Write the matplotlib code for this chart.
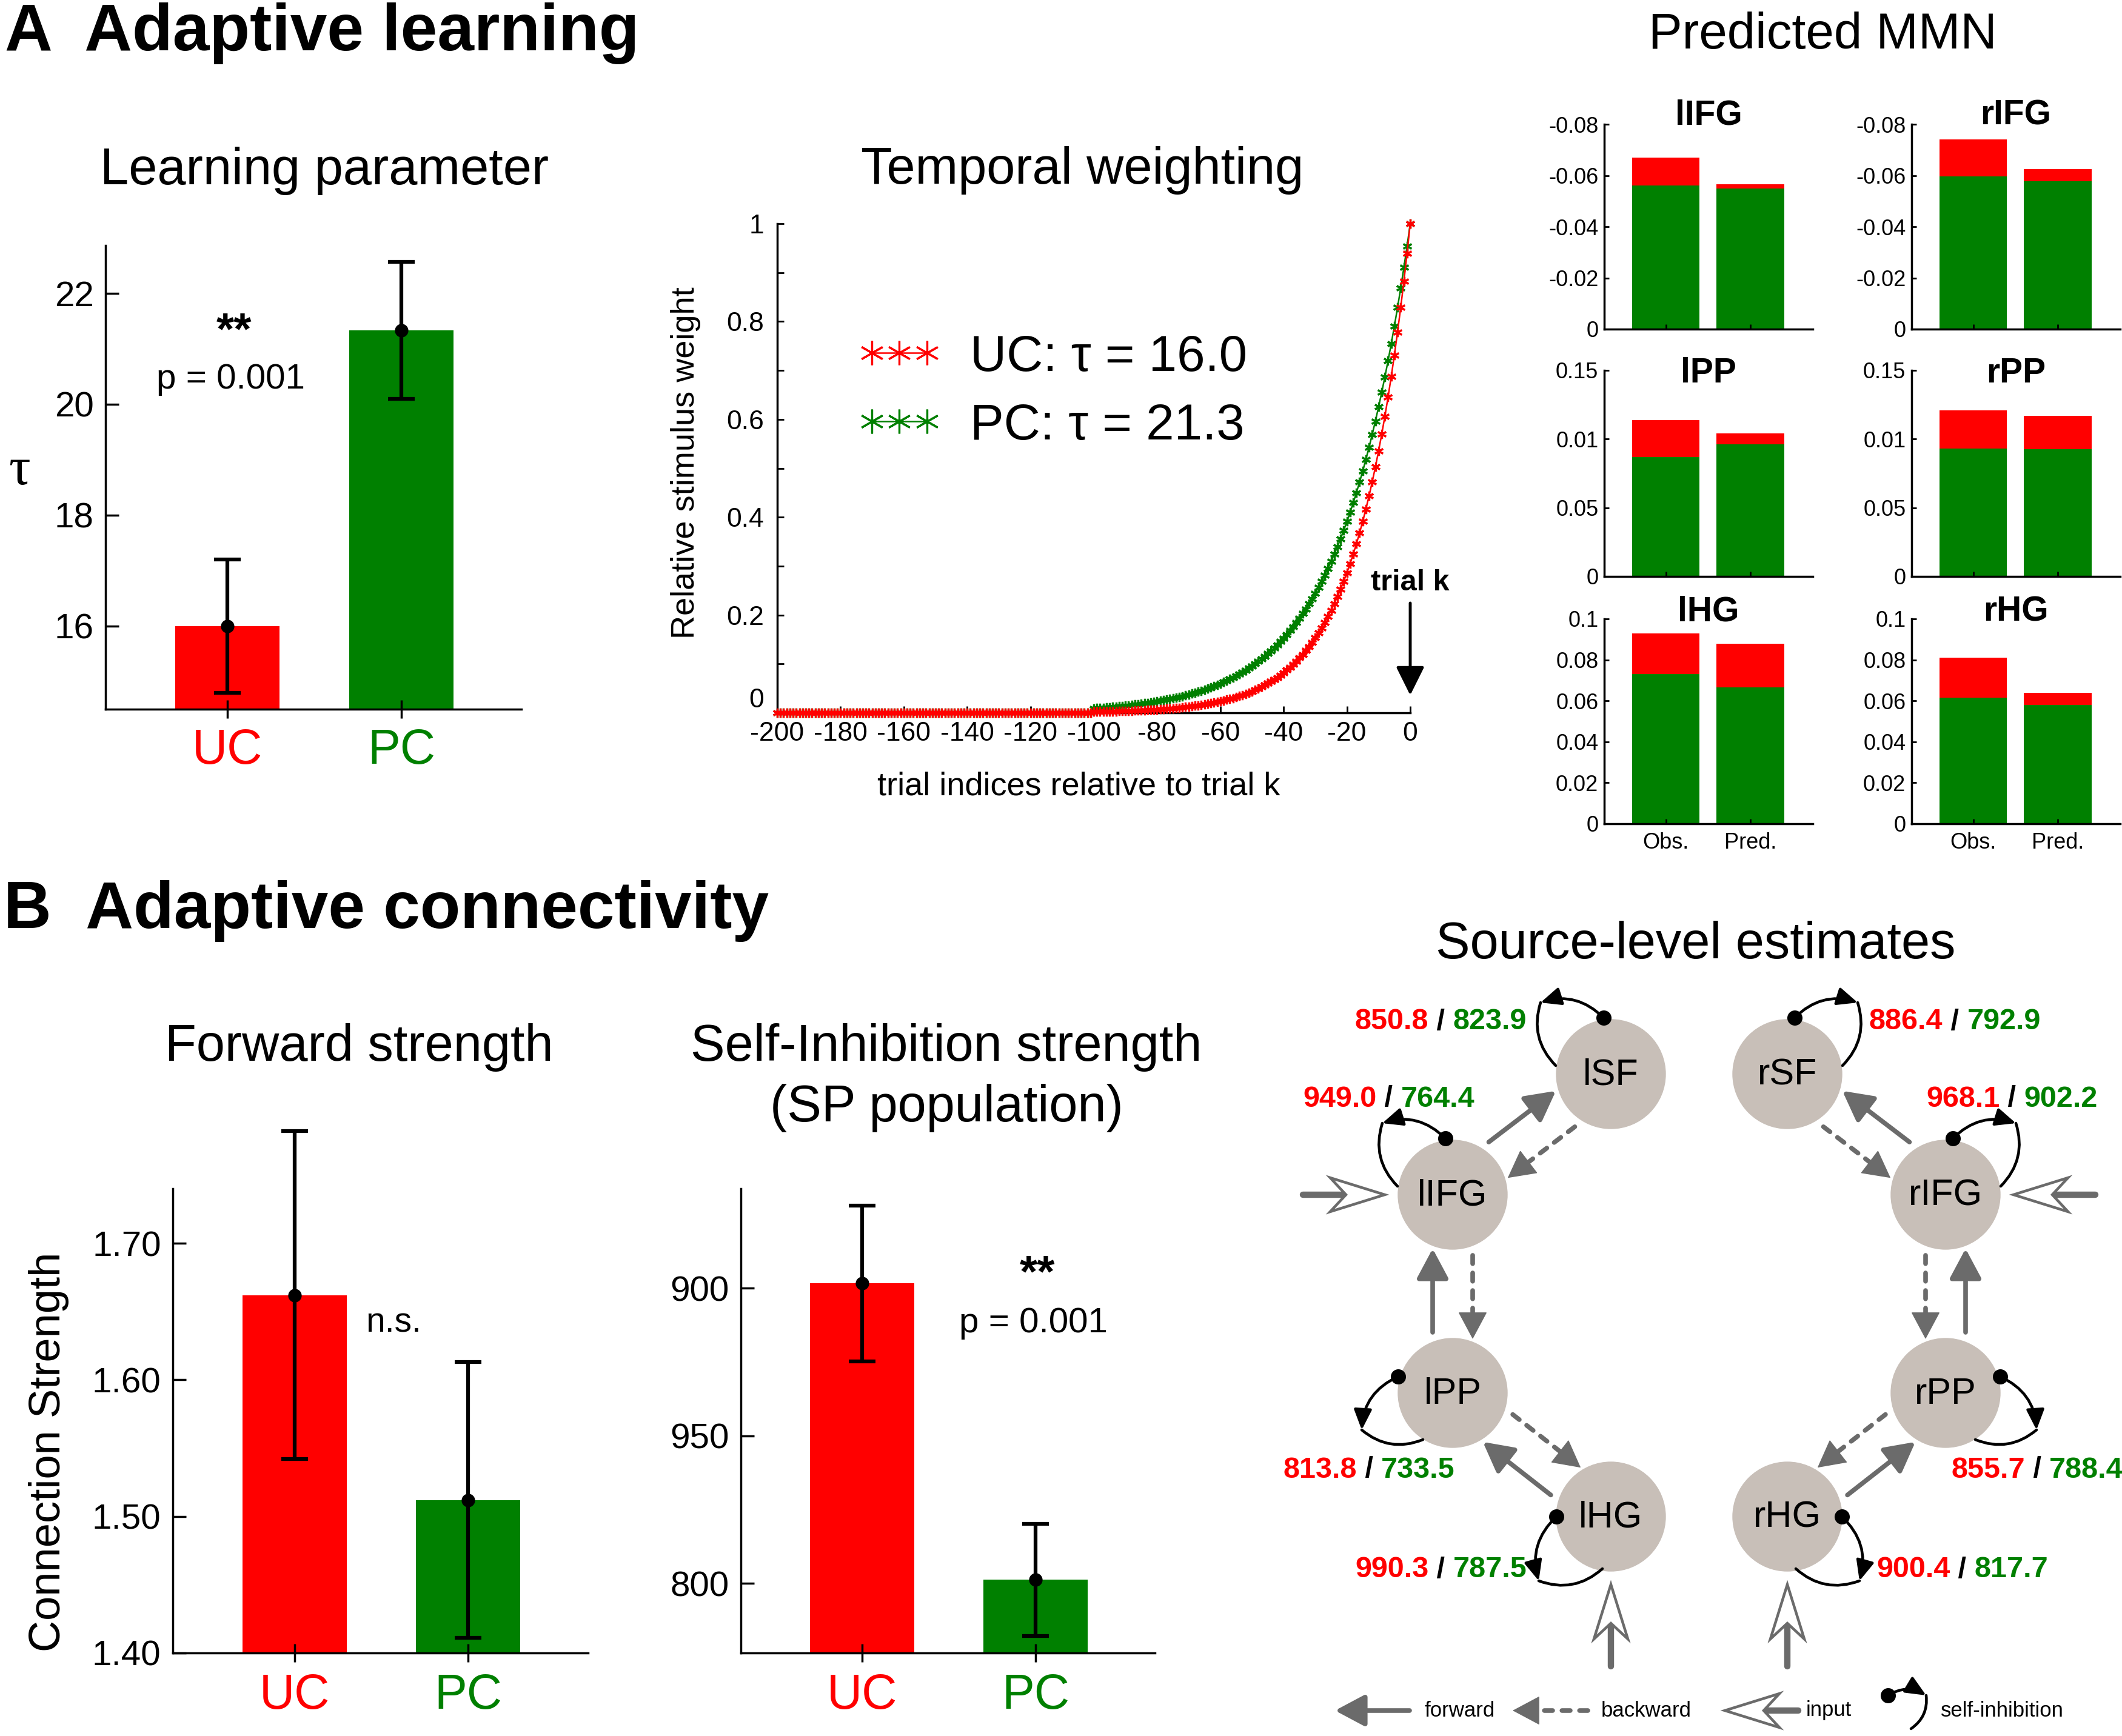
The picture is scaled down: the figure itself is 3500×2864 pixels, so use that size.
import numpy as np
import matplotlib.pyplot as plt
from matplotlib.patches import Circle, FancyArrowPatch, Polygon

plt.rcParams['font.family'] = ['Liberation Sans', 'DejaVu Sans']
plt.rcParams['axes.unicode_minus'] = False
plt.rcParams['axes.linewidth'] = 2.5

RED = '#ff0000'
GREEN = '#008000'
GREY = '#6b6b6b'
NODE_COLOR = '#c8bfb8'

# ---------------- data ----------------
groups = ['UC', 'PC']
group_colors = [RED, GREEN]

# learning parameter tau (mean, sem)
tau_mean = [16.0, 21.33]
tau_err = [1.2, 1.24]

# temporal weighting (trials -200 .. -101 sit at ~0)
trials = np.arange(-200, 1)
uc_weight = [0.0] * 100 + [
    .0019, .0021, .0022, .0023, .0025, .0026, .0028, .0030, .0032, .0034,
    .0036, .0038, .0041, .0044, .0046, .0049, .0053, .0056, .0060, .0063,
    .0067, .0072, .0076, .0081, .0087, .0092, .0098, .0104, .0111, .0118,
    .0126, .0134, .0143, .0152, .0162, .0172, .0183, .0195, .0208, .0221,
    .0235, .0250, .0267, .0284, .0302, .0321, .0342, .0364, .0388, .0413,
    .0439, .0468, .0498, .0530, .0564, .0601, .0639, .0681, .0724, .0771,
    .0821, .0874, .0930, .0990, .1054, .1122, .1194, .1271, .1353, .1441,
    .1534, .1632, .1738, .1850, .1969, .2096, .2231, .2375, .2528, .2691,
    .2865, .3050, .3247, .3456, .3679, .3916, .4169, .4438, .4724, .5028,
    .5353, .5698, .6065, .6456, .6873, .7316, .7788, .8290, .8825, .9394,
    1.0]
pc_weight = [0.0] * 100 + [
    .0091, .0096, .0100, .0105, .0110, .0116, .0121, .0127, .0133, .0140,
    .0146, .0153, .0161, .0168, .0176, .0185, .0194, .0203, .0213, .0223,
    .0234, .0245, .0257, .0269, .0282, .0296, .0310, .0325, .0340, .0357,
    .0374, .0392, .0411, .0430, .0451, .0473, .0496, .0519, .0544, .0571,
    .0598, .0627, .0657, .0688, .0721, .0756, .0793, .0831, .0871, .0912,
    .0956, .1002, .1050, .1101, .1154, .1209, .1267, .1328, .1392, .1459,
    .1529, .1603, .1680, .1760, .1845, .1934, .2027, .2124, .2226, .2333,
    .2445, .2563, .2686, .2815, .2950, .3092, .3241, .3397, .3560, .3731,
    .3910, .4098, .4295, .4502, .4718, .4945, .5183, .5432, .5693, .5966,
    .6253, .6554, .6869, .7199, .7545, .7908, .8288, .8686, .9104, .9541,
    1.0]
uc_label = 'UC: τ = 16.0'
pc_label = 'PC: τ = 21.3'

# predicted MMN per source (observed / predicted)
mmn_regions = ['lIFG', 'rIFG', 'lPP', 'rPP', 'lHG', 'rHG']
mmn_conditions = ['Obs.', 'Pred.']
mmn_uc_obs = [-0.067, -0.074, 0.114, 0.121, 0.093, 0.081]
mmn_uc_pred = [-0.0566, -0.0626, 0.104, 0.117, 0.088, 0.064]
mmn_pc_obs = [-0.056, -0.0596, 0.087, 0.093, 0.073, 0.0616]
mmn_pc_pred = [-0.055, -0.0578, 0.096, 0.0925, 0.0667, 0.058]
mmn_yticks = [[0, -0.02, -0.04, -0.06, -0.08], [0, 0.05, 0.10, 0.15],
              [0, 0.02, 0.04, 0.06, 0.08, 0.1]]
mmn_yticklabels = [['0', '-0.02', '-0.04', '-0.06', '-0.08'],
                   ['0', '0.05', '0.01', '0.15'],
                   ['0', '0.02', '0.04', '0.06', '0.08', '0.1']]
mmn_ylims = [(0, -0.08), (0, 0.15), (0, 0.1)]

# connectivity
forward_mean = [1.662, 1.512]
forward_err = [0.120, 0.101]
selfinh_mean = [901.6, 801.2]
selfinh_err = [26.4, 19.0]
selfinh_yticks = [800, 850, 900]
selfinh_yticklabels = ['800', '950', '900']

# source-level self-inhibition estimates (UC / PC)
src_regions = ['lSF', 'lIFG', 'lPP', 'lHG', 'rSF', 'rIFG', 'rPP', 'rHG']
src_uc = [850.8, 949.0, 813.8, 990.3, 886.4, 968.1, 855.7, 900.4]
src_pc = [823.9, 764.4, 733.5, 787.5, 792.9, 902.2, 788.4, 817.7]
fwd_edges = [('lIFG', 'lSF'), ('lPP', 'lIFG'), ('lHG', 'lPP'),
             ('rIFG', 'rSF'), ('rPP', 'rIFG'), ('rHG', 'rPP')]
bwd_edges = [('lSF', 'lIFG'), ('lIFG', 'lPP'), ('lPP', 'lHG'),
             ('rSF', 'rIFG'), ('rIFG', 'rPP'), ('rPP', 'rHG')]
input_nodes = ['lIFG', 'rIFG', 'lHG', 'rHG']

# ---------------- layout (pixels) ----------------
W, H = 3500, 2864
fig = plt.figure(figsize=(W / 100, H / 100), dpi=100)


def px_axes(left, top, right, bottom):
    return fig.add_axes([left / W, 1 - bottom / H, (right - left) / W, (bottom - top) / H])


def clean(ax):
    ax.spines['top'].set_visible(False)
    ax.spines['right'].set_visible(False)


def bar_panel(ax, means, errs, ylim, yticks, yticklabels, xpad):
    x = np.arange(1, 3)
    ax.bar(x, means, width=0.6, color=group_colors, zorder=1)
    eb = ax.errorbar(x, means, yerr=errs, fmt='o', color='k', ms=15,
                     elinewidth=4.5, capsize=16, capthick=4.5, zorder=3)
    for art in eb.get_children():
        art.set_clip_on(False)
    ax.set_xlim(0.3, 2.69)
    ax.set_ylim(*ylim)
    ax.set_xticks(x)
    ax.set_xticklabels(groups, fontsize=58)
    for lab, c in zip(ax.get_xticklabels(), group_colors):
        lab.set_color(c)
    ax.set_yticks(yticks)
    ax.set_yticklabels(yticklabels, fontsize=42)
    ax.tick_params(axis='y', direction='in', length=16, width=2.5, pad=14)
    ax.tick_params(axis='x', direction='inout', length=22, width=2.5, pad=xpad)
    clean(ax)


# ---- A: learning parameter ----
ax1 = px_axes(174, 405, 860, 1170)
bar_panel(ax1, tau_mean, tau_err, (14.5, 22.86), [16, 18, 20, 22],
          ['16', '18', '20', '22'], 11)
ax1.text(1.04, 21.09, '**', fontsize=54, fontweight='bold', ha='center', va='baseline')
ax1.text(1.02, 20.28, 'p = 0.001', fontsize=42, ha='center', va='baseline')

# ---- A: temporal weighting ----
ax2 = px_axes(1282, 369, 2326, 1176)
h_pc, = ax2.plot(trials, pc_weight, color=GREEN, marker=(6, 2, 0), ms=11, mew=2.3,
                 lw=1.8, clip_on=False, zorder=2)
h_uc, = ax2.plot(trials, uc_weight, color=RED, marker=(6, 2, 0), ms=11, mew=2.3,
                 lw=1.8, clip_on=False, zorder=3)
ax2.set_xlim(-200, 0)
ax2.set_ylim(0, 1)
ax2.set_xticks(np.arange(-200, 1, 20))
ax2.set_xticklabels([str(v) for v in range(-200, 1, 20)], fontsize=32)
ax2.set_yticks(np.round(np.arange(0, 1.01, 0.1), 1))
ax2.set_yticklabels(['0', '', '0.2', '', '0.4', '', '0.6', '', '0.8', '', '1'], fontsize=32)
ax2.get_yticklabels()[0].set_va('bottom')
ax2.tick_params(direction='in', length=8, width=2)
ax2.tick_params(axis='x', pad=10)
ax2.tick_params(axis='y', pad=16)
clean(ax2)
ax2.legend([h_uc, h_pc], [uc_label, pc_label], loc='upper left',
           bbox_to_anchor=(0.125, 0.775), frameon=False, fontsize=60, numpoints=3,
           markerscale=2.6, handlelength=1.7, handletextpad=0.55, labelspacing=0.42,
           borderpad=0, borderaxespad=0)
ax2.annotate('trial k', xy=(0, 0.036), xytext=(0, 0.266), ha='center', va='center',
             fontsize=35, fontweight='bold', annotation_clip=False,
             arrowprops=dict(arrowstyle='-|>,head_length=1.45,head_width=0.72',
                             mutation_scale=20, color='k', lw=3.5, shrinkA=6, shrinkB=0))

# ---- A: predicted MMN ----
mmn_cols = [(2646, 2990), (3153, 3497)]
mmn_rows = [(205, 543), (611, 951), (1021, 1359)]
title_y = [1.0, 0.94, 0.99]
for i, region in enumerate(mmn_regions):
    row, col = i // 2, i % 2
    ax = px_axes(mmn_cols[col][0], mmn_rows[row][0], mmn_cols[col][1], mmn_rows[row][1])
    ax.bar([1, 2], [mmn_uc_obs[i], mmn_uc_pred[i]], width=0.8, color=RED)
    ax.bar([1, 2], [mmn_pc_obs[i], mmn_pc_pred[i]], width=0.8, color=GREEN)
    ax.set_xlim(0.27, 2.74)
    ax.set_ylim(*mmn_ylims[row])
    ax.set_yticks(mmn_yticks[row])
    ax.set_yticklabels(mmn_yticklabels[row], fontsize=26)
    ax.set_xticks([1, 2])
    ax.set_xticklabels(mmn_conditions if row == 2 else ['', ''], fontsize=26)
    ax.tick_params(direction='in', length=6, width=2, pad=7)
    ax.tick_params(axis='x', pad=10)
    clean(ax)
    ax.text(0.5, title_y[row], region, transform=ax.transAxes, ha='center',
            va='baseline', fontsize=41, fontweight='bold')

# ---- B: forward strength ----
ax4 = px_axes(285, 1961, 970, 2727)
bar_panel(ax4, forward_mean, forward_err, (1.40, 1.74), [1.4, 1.5, 1.6, 1.7],
          ['1.40', '1.50', '1.60', '1.70'], 13)
ax4.text(1.41, 1.635, 'n.s.', fontsize=41, ha='left', va='baseline')

# ---- B: self-inhibition strength ----
ax5 = px_axes(1222, 1961, 1905, 2727)
bar_panel(ax5, selfinh_mean, selfinh_err, (776.4, 933.7), selfinh_yticks,
          selfinh_yticklabels, 13)
ax5.text(2.01, 900.6, '**', fontsize=54, fontweight='bold', ha='center', va='baseline')
ax5.text(1.99, 885.0, 'p = 0.001', fontsize=42, ha='center', va='baseline')

# ---------------- overlay: headings, labels and network diagram ----------------
ov = fig.add_axes([0, 0, 1, 1])
ov.set_xlim(0, W)
ov.set_ylim(H, 0)
ov.axis('off')
ov.patch.set_visible(False)

ov.text(8, 83, 'A  Adaptive learning', fontsize=78.5, fontweight='bold', va='baseline')
ov.text(6, 1531, 'B  Adaptive connectivity', fontsize=78.5, fontweight='bold', va='baseline')
ov.text(535, 304, 'Learning parameter', fontsize=61, ha='center', va='baseline')
ov.text(1785, 303, 'Temporal weighting', fontsize=61, ha='center', va='baseline')
ov.text(3006, 80, 'Predicted MMN', fontsize=60, ha='center', va='baseline')
ov.text(592, 1750, 'Forward strength', fontsize=61, ha='center', va='baseline')
ov.text(1561, 1750, 'Self-Inhibition strength', fontsize=61, ha='center', va='baseline')
ov.text(1561, 1850, '(SP population)', fontsize=61, ha='center', va='baseline')
ov.text(2797, 1581, 'Source-level estimates', fontsize=61, ha='center', va='baseline')

ov.text(32, 778, 'τ', family=['Liberation Serif', 'DejaVu Serif'], fontsize=64,
        ha='center', va='center')
ov.text(1131, 764, 'Relative stimulus weight', rotation=90, fontsize=39,
        ha='center', va='center')
ov.text(1779, 1298, 'trial indices relative to trial k', fontsize=39,
        ha='center', va='center')
ov.text(81, 2395, 'Connection Strength', rotation=90, fontsize=52,
        ha='center', va='center')

node_xy = {'lSF': (2657, 1772), 'lIFG': (2396, 1971), 'lPP': (2396, 2298),
           'lHG': (2657, 2502), 'rSF': (2948, 1772), 'rIFG': (3209, 1971),
           'rPP': (3209, 2298), 'rHG': (2948, 2502)}
value_xy = {'lSF': (2235, 1686), 'lIFG': (2149, 1813), 'lPP': (2116, 2425),
            'lHG': (2235, 2590), 'rSF': (3083, 1686), 'rIFG': (3177, 1813),
            'rPP': (3218, 2425), 'rHG': (3095, 2590)}
# self-inhibition loop shape (dot, apex, end) relative to a left-hemisphere node
loop_rel = {'SF': ((-12, -93), (-116, -118), (-91, -14)),
            'IFG': ((-12, -93), (-116, -118), (-91, -14)),
            'PP': ((-90, -27), (-150, 61), (-49, 77)),
            'HG': ((-90, 0), (-119, 106), (-14, 86))}
R = 90


def arrow_head_style(scale=20):
    return dict(arrowstyle='-|>,head_length=1.5,head_width=0.8', mutation_scale=scale)


def fwd_arrow(p0, p1):
    ov.add_patch(FancyArrowPatch(p0, p1, color=GREY, lw=5.5, shrinkA=0, shrinkB=0,
                                 **arrow_head_style()))


def bwd_arrow(p0, p1):
    p0, p1 = np.array(p0, float), np.array(p1, float)
    d = (p1 - p0) / np.linalg.norm(p1 - p0)
    base = p1 - d * 38
    ov.plot([p0[0], base[0]], [p0[1], base[1]], color=GREY, lw=5.5,
            ls=(0, (1.8, 2.0)), dash_capstyle='round')
    ov.add_patch(FancyArrowPatch(p1 - d * 3, p1, color=GREY, lw=1, shrinkA=0, shrinkB=0,
                                 **arrow_head_style()))


def input_arrow(tip, d, L=90, Wd=28, N=26, shaft=135):
    tip, d = np.array(tip, float), np.array(d, float)
    n = np.array([-d[1], d[0]])
    tail = tip - d * shaft
    notch = tip - d * (L - N)
    ov.plot([tail[0], notch[0]], [tail[1], notch[1]], color=GREY, lw=7.5,
            solid_capstyle='round', zorder=2)
    head = [tip, tip - d * L + n * Wd, notch, tip - d * L - n * Wd]
    ov.add_patch(Polygon(head, closed=True, fc='white', ec=GREY, lw=3.2, zorder=3))


def loop(dot, apex, end, rad):
    ov.add_patch(FancyArrowPatch(dot, apex, connectionstyle=f'arc3,rad={rad}',
                                 arrowstyle='-|>,head_length=1.7,head_width=0.75',
                                 mutation_scale=12, color='k', lw=3.3, shrinkA=0,
                                 shrinkB=0, zorder=4))
    ov.add_patch(FancyArrowPatch(apex, end, connectionstyle=f'arc3,rad={rad}',
                                 arrowstyle='-', color='k', lw=3.3, shrinkA=0,
                                 shrinkB=0, zorder=4))
    ov.plot(*dot, 'o', color='k', ms=17, zorder=5)


def edge_points(src, dst, start_gap=100, end_gap=89, offset=33):
    a, b = np.array(node_xy[src], float), np.array(node_xy[dst], float)
    u = (b - a) / np.linalg.norm(b - a)
    p = np.array([-u[1], u[0]])
    side = -1 if src[0] == 'l' else 1
    return a + u * start_gap + p * offset * side, b - u * end_gap + p * offset * side


for name, (x, y) in node_xy.items():
    ov.add_patch(Circle((x, y), R, color=NODE_COLOR, zorder=1))
    ov.text(x, y + 2, name, fontsize=44, ha='center', va='center', zorder=6)

for src, dst in fwd_edges:
    fwd_arrow(*edge_points(src, dst))
for src, dst in bwd_edges:
    bwd_arrow(*edge_points(src, dst))

input_dirs = {'lIFG': (1, 0), 'rIFG': (-1, 0), 'lHG': (0, -1), 'rHG': (0, -1)}
for name in input_nodes:
    c = np.array(node_xy[name], float)
    d = np.array(input_dirs[name], float)
    input_arrow(c - d * 112, d)

for name in src_regions:
    cx, cy = node_xy[name]
    mirror = -1 if name[0] == 'r' else 1
    dot, apex, end = loop_rel[name[1:]]
    loop((cx + mirror * dot[0], cy + dot[1]), (cx + mirror * apex[0], cy + apex[1]),
         (cx + mirror * end[0], cy + end[1]), 0.3 * mirror)

for name, uc, pc in zip(src_regions, src_uc, src_pc):
    x, y = value_xy[name]
    t1 = ov.text(x, y, f'{uc:.1f}', color=RED, fontsize=35, fontweight='bold',
                 ha='left', va='center')
    t2 = ov.annotate(' / ', xy=(1, 0.5), xycoords=t1, color='k', fontsize=35,
                     fontweight='bold', ha='left', va='center')
    ov.annotate(f'{pc:.1f}', xy=(1, 0.5), xycoords=t2, color=GREEN, fontsize=35,
                fontweight='bold', ha='left', va='center')

# diagram legend
ly = 2822
fwd_arrow((2325, ly), (2202, ly))
ov.text(2350, ly, 'forward', fontsize=25, va='center')
bwd_arrow((2619, ly), (2495, ly))
ov.text(2641, ly, 'backward', fontsize=25, va='center')
input_arrow((2845, ly), (-1, 0), shaft=121)
ov.text(2979, ly, 'input', fontsize=25, va='center')
loop((3114, 2797), (3177, 2797), (3152, 2852), -0.3)
ov.text(3201, ly, 'self-inhibition', fontsize=25, va='center')

fig.savefig('out.png', dpi=100)
